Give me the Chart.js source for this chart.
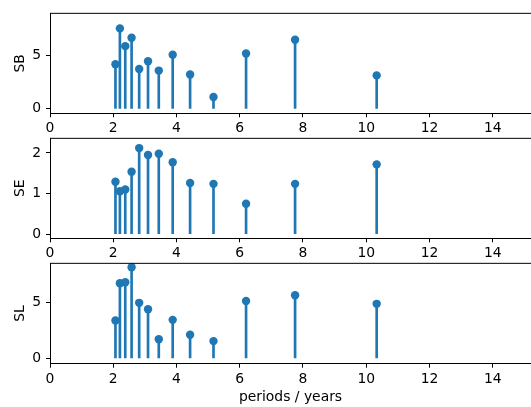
<!DOCTYPE html>
<html>
<head>
<meta charset="utf-8">
<script src="https://cdn.jsdelivr.net/npm/chart.js@4/dist/chart.umd.min.js"></script>
<style>
  html, body { margin: 0; padding: 0; background: #fff; }
  #wrap { position: relative; width: 531px; height: 407px; overflow: hidden; }
  canvas { position: absolute; left: 0; }
</style>
</head>
<body>
<div id="wrap">
  <canvas id="sb" width="531" height="140" style="top:0px"></canvas>
  <canvas id="se" width="531" height="140" style="top:125px"></canvas>
  <canvas id="sl" width="531" height="157" style="top:250px"></canvas>
</div>
<script>
// stem positions (periods in years) and amplitudes per panel
const periods = [2.07, 2.21, 2.38, 2.58, 2.82, 3.1, 3.44, 3.88, 4.43, 5.17, 6.2, 7.75, 10.33];
const sbValues = [4.18, 7.53, 5.87, 6.65, 3.73, 4.46, 3.58, 5.06, 3.22, 1.11, 5.18, 6.47, 3.13];
const seValues = [1.29, 1.06, 1.10, 1.54, 2.12, 1.95, 1.98, 1.77, 1.26, 1.24, 0.75, 1.24, 1.72];
const slValues = [3.41, 6.76, 6.85, 8.2, 5.0, 4.42, 1.73, 3.47, 2.13, 1.56, 5.17, 5.69, 4.91];

const xTicks = [0, 2, 4, 6, 8, 10, 12, 14];
const sbTicks = [0, 5];
const seTicks = [0, 1, 2];
const slTicks = [0, 5];

const blue = '#1f77b4';
const font = { family: 'DejaVu Sans', size: 13.9 };

// white axes background + top spine, like matplotlib axes
const framePlugin = {
    id: 'frame',
    beforeDraw(chart) {
        const a = chart.chartArea;
        const ctx = chart.ctx;
        ctx.save();
        ctx.fillStyle = '#fff';
        ctx.fillRect(a.left, a.top, a.right - a.left, a.bottom - a.top);
        ctx.restore();
    },
    afterDraw(chart) {
        const a = chart.chartArea;
        const ctx = chart.ctx;
        ctx.save();
        ctx.strokeStyle = '#000';
        ctx.lineWidth = 1;
        ctx.beginPath();
        ctx.moveTo(a.left, a.top);
        ctx.lineTo(a.right, a.top);
        ctx.stroke();
        ctx.restore();
    }
};

function makePanel(id, label, values, yTicks, yMin, yMax, padTop, xHeight, xTitle) {
    const pts = periods.map((p, i) => ({ x: p, y: values[i] }));
    return new Chart(document.getElementById(id), {
        type: 'scatter',
        data: {
            datasets: [
                {
                    type: 'scatter',
                    data: pts,
                    backgroundColor: blue,
                    borderWidth: 0,
                    pointRadius: 4.2,
                    order: 0
                },
                {
                    type: 'bar',
                    data: pts,
                    backgroundColor: blue,
                    barThickness: 2,
                    order: 1
                }
            ]
        },
        options: {
            responsive: false,
            animation: false,
            devicePixelRatio: 1,
            layout: { autoPadding: false, padding: { top: padTop, left: 0, right: 0, bottom: 0 } },
            plugins: { legend: { display: false }, tooltip: { enabled: false } },
            scales: {
                x: {
                    type: 'linear',
                    min: 0,
                    max: 15.21,
                    offset: false,
                    afterBuildTicks: s => { s.ticks = xTicks.map(v => ({ value: v })); },
                    afterFit: s => { s.height = xHeight; },
                    grid: { drawOnChartArea: false, offset: false, tickLength: 4, color: '#000' },
                    border: { display: true, color: '#000', width: 1 },
                    ticks: { font: font, color: '#000', padding: 3, maxRotation: 0 },
                    title: {
                        display: !!xTitle,
                        text: xTitle || '',
                        font: font,
                        color: '#000',
                        padding: { top: 0, bottom: 1.7 }
                    }
                },
                y: {
                    min: yMin,
                    max: yMax,
                    afterBuildTicks: s => { s.ticks = yTicks.map(v => ({ value: v })); },
                    afterFit: s => { s.width = 50; },
                    grid: { drawOnChartArea: false, tickLength: 4, color: '#000' },
                    border: { display: true, color: '#000', width: 1 },
                    ticks: { font: font, color: '#000', padding: 5 },
                    title: {
                        display: true,
                        text: label,
                        font: font,
                        color: '#000',
                        padding: { top: 11.7, bottom: 0 }
                    }
                }
            }
        },
        plugins: [framePlugin]
    });
}

makePanel('sb', 'SB', sbValues, sbTicks, -0.42, 8.94, 9, 26.7);
makePanel('se', 'SE', seValues, seTicks, -0.10, 2.36, 9.7, 26.7);
makePanel('sl', 'SL', slValues, slTicks, -0.47, 8.55, 9.7, 43.3, 'periods / years');
</script>
</body>
</html>
